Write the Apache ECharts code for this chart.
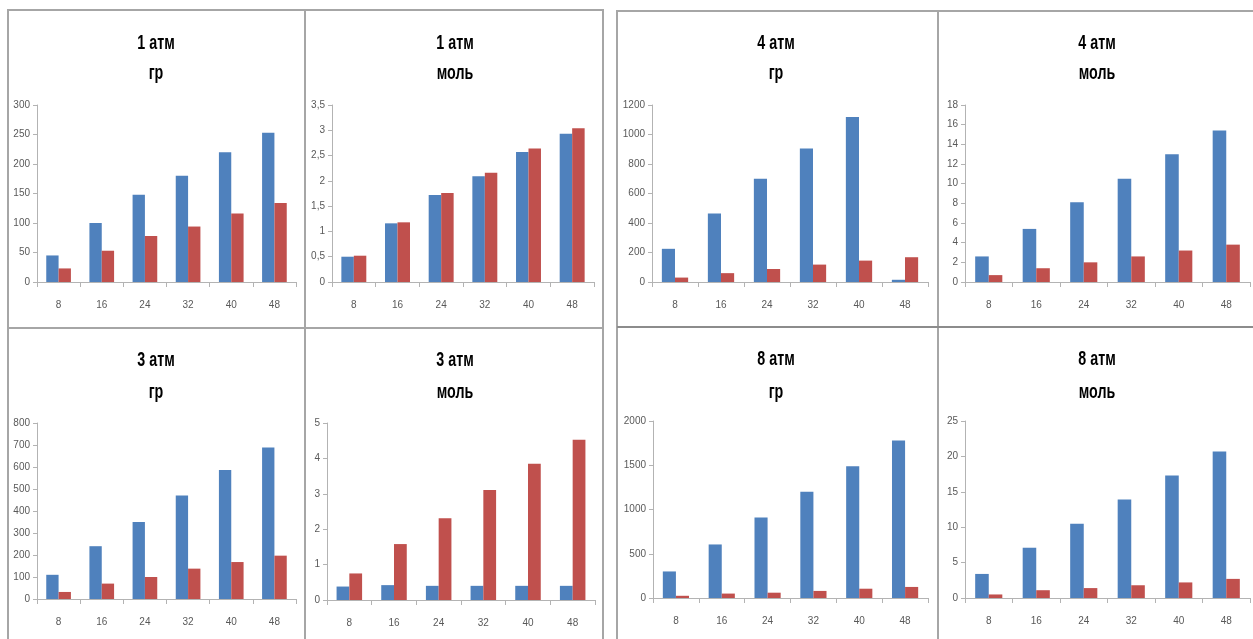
<!DOCTYPE html>
<html>
<head>
<meta charset="utf-8">
<script src="https://cdn.jsdelivr.net/npm/echarts@6/dist/echarts.min.js"></script>
<style>
html,body{margin:0;padding:0;background:#fff;}
#c{width:1253px;height:639px;}
</style>
</head>
<body>
<div id="c"></div>
<script>
// ---- data ----
const categories = ['8', '16', '24', '32', '40', '48'];

const titles1 = ['1 атм', '1 атм', '4 атм', '4 атм', '3 атм', '3 атм', '8 атм', '8 атм'];
const titles2 = ['гр', 'моль', 'гр', 'моль', 'гр', 'моль', 'гр', 'моль'];

const yMax = [300, 3.5, 1200, 18, 800, 5, 2000, 25];
const yStep = [50, 0.5, 200, 2, 100, 1, 500, 5];

const atm1grBlue = [45, 100, 148, 180, 220, 253];
const atm1grRed = [23, 53, 78, 94, 116, 134];

const atm1molBlue = [0.50, 1.16, 1.72, 2.09, 2.57, 2.93];
const atm1molRed = [0.52, 1.18, 1.76, 2.16, 2.64, 3.04];

const atm4grBlue = [225, 465, 700, 905, 1118, 15];
const atm4grRed = [30, 60, 88, 118, 145, 168];

const atm4molBlue = [2.6, 5.4, 8.1, 10.5, 13.0, 15.4];
const atm4molRed = [0.7, 1.4, 2.0, 2.6, 3.2, 3.8];

const atm3grBlue = [110, 240, 350, 470, 586, 689];
const atm3grRed = [32, 70, 100, 138, 168, 197];

const atm3molBlue = [0.38, 0.42, 0.40, 0.40, 0.40, 0.40];
const atm3molRed = [0.75, 1.58, 2.31, 3.11, 3.85, 4.53];

const atm8grBlue = [300, 605, 910, 1200, 1490, 1780];
const atm8grRed = [25, 50, 60, 80, 105, 125];

const atm8molBlue = [3.4, 7.1, 10.5, 13.9, 17.3, 20.7];
const atm8molRed = [0.5, 1.1, 1.4, 1.8, 2.2, 2.7];

const blueSeries = [atm1grBlue, atm1molBlue, atm4grBlue, atm4molBlue, atm3grBlue, atm3molBlue, atm8grBlue, atm8molBlue];
const redSeries = [atm1grRed, atm1molRed, atm4grRed, atm4molRed, atm3grRed, atm3molRed, atm8grRed, atm8molRed];

// ---- layout ----
const grids = [
  {left: 37, top: 105, width: 259, height: 177},
  {left: 332, top: 105, width: 262, height: 177},
  {left: 652, top: 105, width: 276, height: 177},
  {left: 965, top: 105, width: 285, height: 177},
  {left: 37, top: 423, width: 259, height: 176},
  {left: 327, top: 423, width: 268, height: 177},
  {left: 653, top: 421, width: 275, height: 177},
  {left: 965, top: 421, width: 285, height: 177}
];
const titlePos = [
  [156, 43, 73], [455, 43, 73], [776, 43, 73], [1097, 43, 73],
  [156, 360, 392], [455, 360, 392], [776, 359, 392], [1097, 359, 392]
];

const FONT = '"Liberation Sans Narrow", "Liberation Sans", Arial, sans-serif';
const BLUE = '#4F81BD', RED = '#C0504D';
const AXIS = '#b3b3b3';

const chart = echarts.init(document.getElementById('c'), null, {renderer: 'canvas'});

const xAxis = [], yAxis = [], series = [], graphic = [];
grids.forEach((g, i) => {
  xAxis.push({
    type: 'category', gridIndex: i, data: categories, boundaryGap: true,
    axisLine: {lineStyle: {color: AXIS, width: 1}},
    axisTick: {show: true, length: 5, lineStyle: {color: AXIS}},
    axisLabel: {color: '#595959', fontFamily: FONT, fontSize: 10, margin: 18}
  });
  yAxis.push({
    type: 'value', gridIndex: i, min: 0, max: yMax[i], interval: yStep[i],
    axisLine: {show: true, lineStyle: {color: AXIS, width: 1}},
    axisTick: {show: true, length: 4, lineStyle: {color: AXIS}},
    splitLine: {show: false},
    axisLabel: {color: '#595959', fontFamily: FONT, fontSize: 10, margin: 7,
      formatter: v => String(+v.toFixed(2)).replace('.', ',')}
  });
  series.push({
    type: 'bar', xAxisIndex: i, yAxisIndex: i, data: blueSeries[i],
    itemStyle: {color: BLUE}, barGap: '0%', barCategoryGap: '42.86%', silent: true
  });
  series.push({
    type: 'bar', xAxisIndex: i, yAxisIndex: i, data: redSeries[i],
    itemStyle: {color: RED}, barGap: '0%', barCategoryGap: '42.86%', silent: true
  });
  const tp = titlePos[i];
  graphic.push({type: 'text', x: tp[0], y: tp[1], scaleX: 0.68, style: {text: titles1[i], align: 'center', verticalAlign: 'middle',
    font: 'bold 21px ' + FONT, fill: '#000'}});
  graphic.push({type: 'text', x: tp[0], y: tp[2], scaleX: 0.68, style: {text: titles2[i], align: 'center', verticalAlign: 'middle',
    font: 'bold 21px ' + FONT, fill: '#000'}});
});

// panel borders
const BORDER = {stroke: '#a6a6a6', lineWidth: 2, fill: null};
graphic.push({type: 'rect', shape: {x: 8, y: 10, width: 595, height: 700}, style: BORDER, silent: true});
graphic.push({type: 'line', shape: {x1: 305, y1: 10, x2: 305, y2: 700}, style: BORDER, silent: true});
graphic.push({type: 'line', shape: {x1: 8, y1: 328, x2: 603, y2: 328}, style: BORDER, silent: true});
graphic.push({type: 'rect', shape: {x: 617, y: 11, width: 700, height: 700}, style: BORDER, silent: true});
graphic.push({type: 'line', shape: {x1: 938, y1: 11, x2: 938, y2: 700}, style: BORDER, silent: true});
graphic.push({type: 'line', shape: {x1: 617, y1: 327, x2: 1300, y2: 327}, style: {stroke: '#8c8c8c', lineWidth: 2}, silent: true});

chart.setOption({
  animation: false,
  backgroundColor: '#fff',
  grid: grids,
  xAxis: xAxis,
  yAxis: yAxis,
  series: series,
  graphic: graphic
});
</script>
</body>
</html>
